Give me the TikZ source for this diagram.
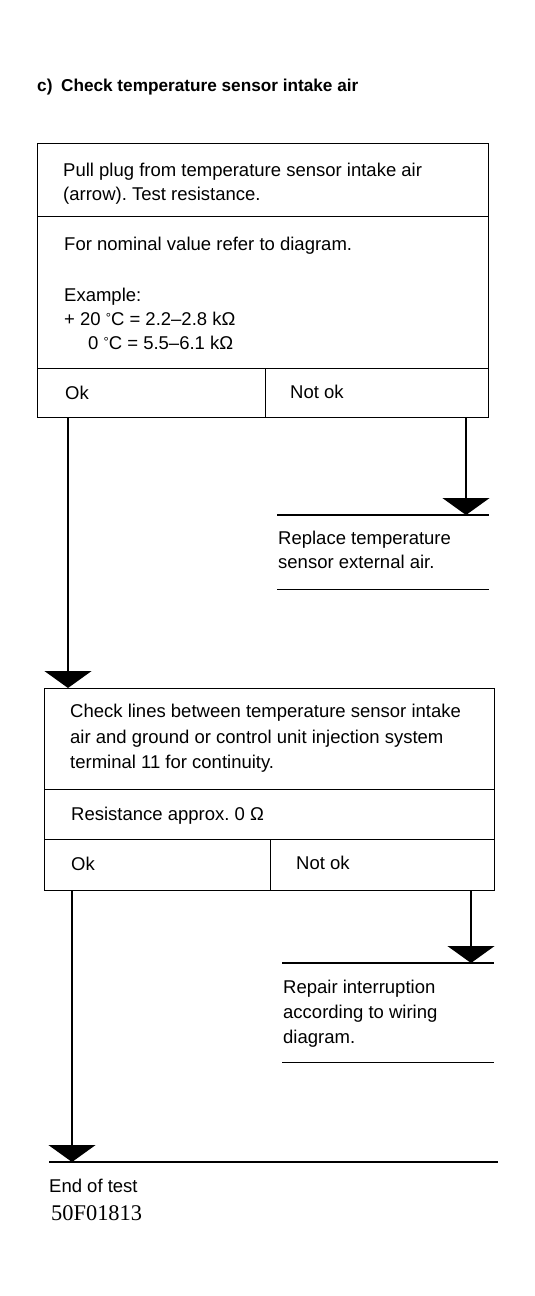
\documentclass[tikz,border=0pt]{standalone}
\usepackage{fontspec}
\setmainfont{Liberation Sans}
\newfontfamily\codefont{Liberation Serif}
\usetikzlibrary{arrows.meta}
\newcommand{\degsym}{\raisebox{0.25ex}{\fontsize{13}{13}\selectfont°}}
\begin{document}
\frenchspacing
\begin{tikzpicture}[x=1pt,y=-1pt,
  ln/.style={line width=1.4pt},
  cell/.style={draw,line width=1.4pt,anchor=north west,inner sep=0pt,rectangle},
  frame/.style={anchor=north west,inner sep=0pt,rectangle},
  txt/.style={anchor=base west,inner sep=0pt,font=\fontsize{18.5}{22}\selectfont},
  ttl/.style={anchor=base west,inner sep=0pt,font=\bfseries\fontsize{17.2}{21}\selectfont},
  code/.style={anchor=base west,inner sep=0pt,font=\codefont\fontsize{22.4}{26}\selectfont},
  arr/.style={line width=1.4pt,-{Triangle[width=47pt,length=17pt]}}]
\useasboundingbox (0,0) rectangle (535,1296);

\node[ttl] (title) at (37,91) {c)\enspace Check temperature sensor intake air};

% Box 1
\node[cell,minimum width=451pt,minimum height=73pt] (b1a) at (37,143) {};
\node[cell,minimum width=451pt,minimum height=152pt] (b1b) at (37,216) {};
\node[cell,minimum width=228pt,minimum height=49pt] (b1ok) at (37,368) {};
\node[cell,minimum width=223pt,minimum height=49pt] (b1nok) at (265,368) {};
\node[txt] (t1a) at (63,176) {Pull plug from temperature sensor intake air};
\node[txt] (t1b) at (63,200) {(arrow). Test resistance.};
\node[txt] (t1c) at (64,250) {For nominal value refer to diagram.};
\node[txt] (t1d) at (64,301) {Example:};
\node[txt] (t1e) at (64,325) {+ 20 \degsym C = 2.2–2.8 kΩ};
\node[txt] (t1f) at (88,349) {0 \degsym C = 5.5–6.1 kΩ};
\node[txt] (t1ok) at (65,399) {Ok};
\node[txt] (t1nok) at (290,398) {Not ok};

% Result 1
\node[frame,minimum width=212pt,minimum height=74pt] (r1) at (277,515) {};
\draw[ln] (r1.north west) -- (r1.north east);
\draw[ln] (r1.south west) -- (r1.south east);
\node[txt] (r1a) at (278,544) {Replace temperature};
\node[txt] (r1b) at (278,568) {sensor external air.};

% Box 2
\node[cell,minimum width=450pt,minimum height=101pt] (b2a) at (44,688) {};
\node[cell,minimum width=450pt,minimum height=50pt] (b2b) at (44,789) {};
\node[cell,minimum width=226pt,minimum height=51pt] (b2ok) at (44,839) {};
\node[cell,minimum width=224pt,minimum height=51pt] (b2nok) at (270,839) {};
\node[txt] (t2a) at (70,717) {Check lines between temperature sensor intake};
\node[txt] (t2b) at (70,743) {air and ground or control unit injection system};
\node[txt] (t2c) at (70,768) {terminal 11 for continuity.};
\node[txt] (t2d) at (71,820) {Resistance approx. 0 Ω};
\node[txt] (t2ok) at (71,870) {Ok};
\node[txt] (t2nok) at (296,869) {Not ok};

% Result 2
\node[frame,minimum width=212pt,minimum height=99pt] (r2) at (282,963) {};
\draw[ln] (r2.north west) -- (r2.north east);
\draw[ln] (r2.south west) -- (r2.south east);
\node[txt] (r2a) at (283,993) {Repair interruption};
\node[txt] (r2b) at (283,1018) {according to wiring};
\node[txt] (r2c) at (283,1043) {diagram.};

% End
\node[frame,minimum width=449pt,minimum height=0pt] (endl) at (49,1162) {};
\draw[ln] (endl.north west) -- (endl.north east);
\node[txt] (endt) at (49,1192) {End of test};
\node[code] (num) at (51,1220) {50F01813};

% Connectors
\coordinate (c1) at (68,688);
\coordinate (c2) at (466,515);
\coordinate (c3) at (72,1162);
\coordinate (c4) at (471,963);
\draw[arr] (b1ok.south -| c1) -- (c1);
\draw[arr] (b1nok.south -| c2) -- (c2);
\draw[arr] (b2ok.south -| c3) -- (c3);
\draw[arr] (b2nok.south -| c4) -- (c4);
\end{tikzpicture}
\end{document}
